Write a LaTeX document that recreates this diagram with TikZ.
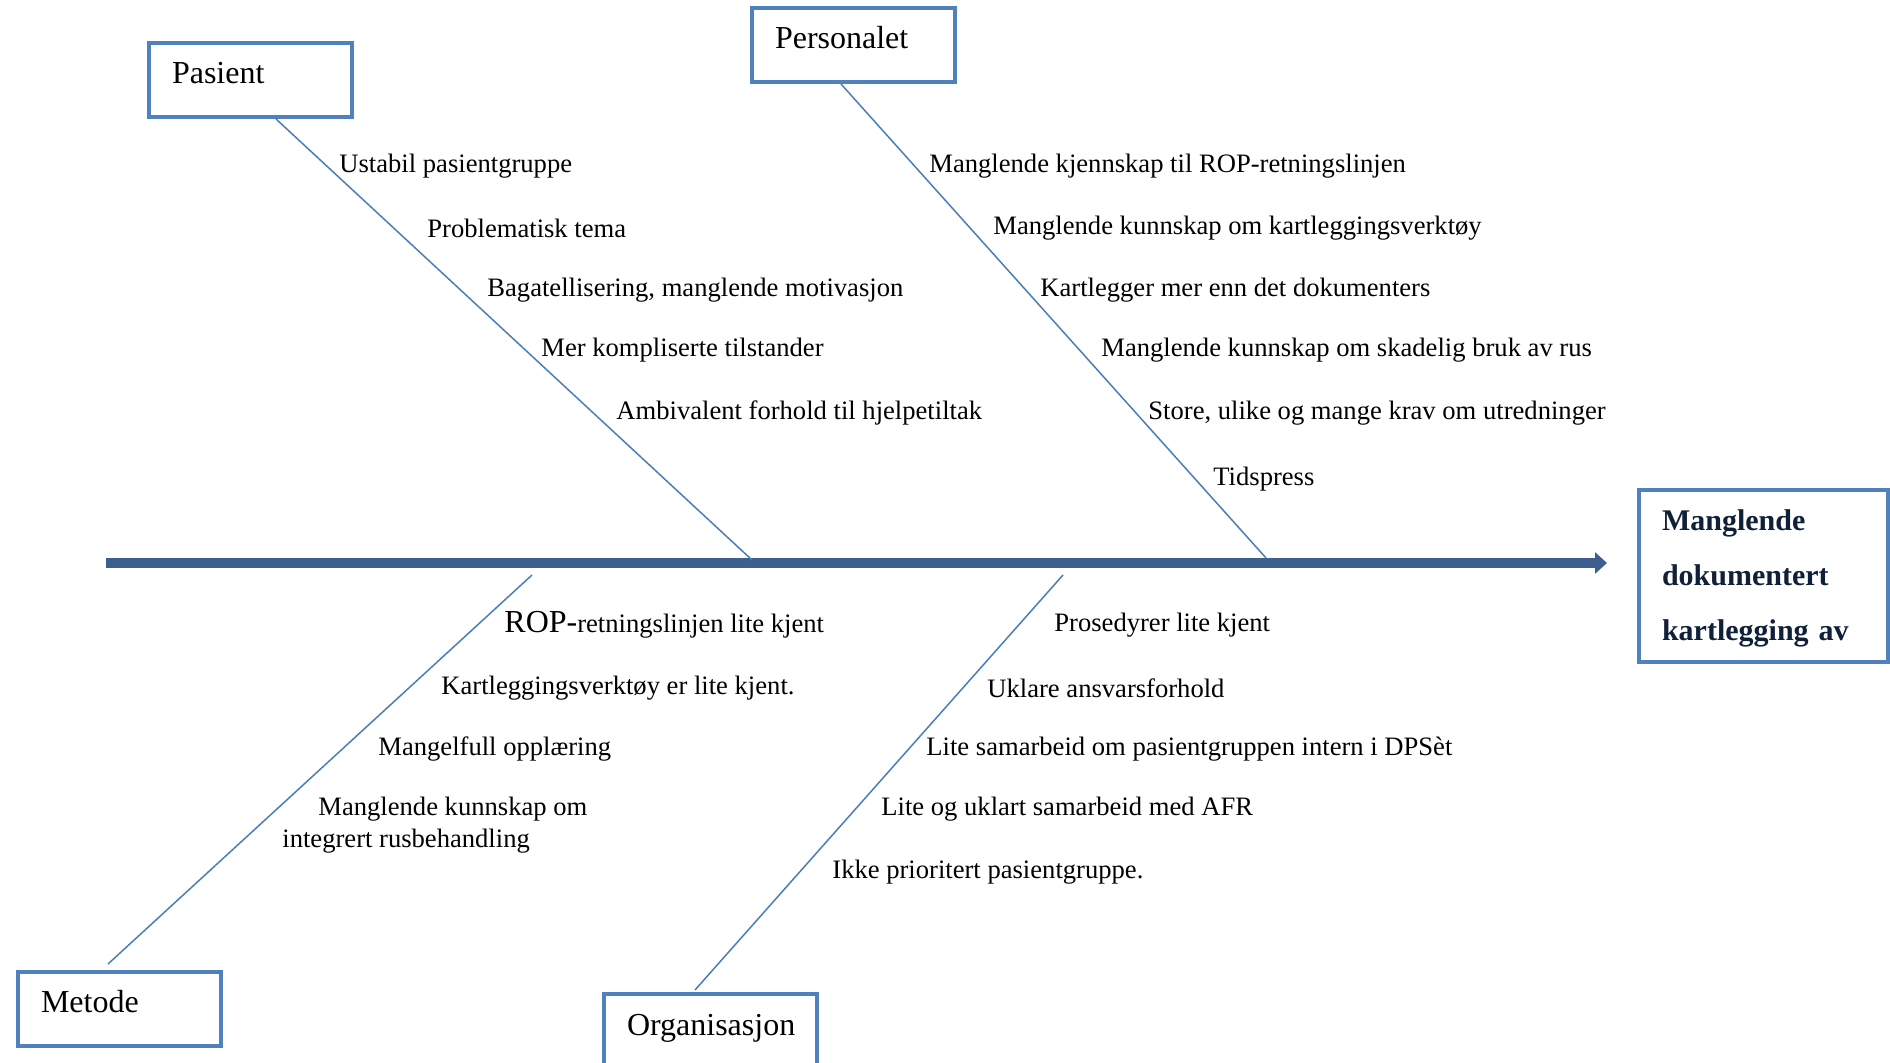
\documentclass[tikz,border=0pt]{standalone}
\usepackage{fontspec}
\setmainfont{Liberation Serif}
\usetikzlibrary{arrows.meta}
\definecolor{boxblue}{RGB}{79,129,189}
\definecolor{lineblue}{RGB}{74,126,187}
\definecolor{spineblue}{RGB}{61,95,143}
\definecolor{navy}{RGB}{16,32,56}
\begin{document}
\begin{tikzpicture}[x=0.5pt,y=-0.5pt,
  catbox/.style={draw=boxblue, line width=2pt, fill=white, anchor=north west,
    inner xsep=11.5pt, inner ysep=0pt, align=left, text height=11pt, text depth=7.6pt,
    font=\fontsize{16}{19}\selectfont},
  cause/.style={anchor=west, inner sep=0pt, font=\fontsize{13.3}{15.5}\selectfont},
  bone/.style={draw=lineblue, line width=0.75pt},
  spine/.style={draw=spineblue, line width=5pt,
    -{Triangle[length=6pt,width=10.5pt]}}]
\useasboundingbox (0,0) rectangle (1890,1063);

% category boxes
\node[catbox, text width=78.5pt, minimum height=37pt] (pasient) at (147,41) {Pasient};
\node[catbox, text width=78.5pt, minimum height=37pt] (personalet) at (750,6) {Personalet};
\node[catbox, text width=78.5pt, minimum height=37pt] (metode) at (16,970) {Metode};
\node[catbox, text width=83.5pt, minimum height=38pt] (organisasjon) at (602,992) {Organisasjon};

% effect box
\node[draw=boxblue, line width=2pt, fill=white, anchor=north west,
  inner xsep=11.5pt, inner ysep=0pt, text width=101.5pt, minimum height=86pt,
  align=left, text=navy, font=\fontsize{15}{27.5}\selectfont\bfseries]
  (effect) at (1637,488) {\rule{0pt}{13pt}Manglende\\dokumentert\\kartlegging av};

% spine
\coordinate (tail) at (106,563);
\coordinate (head) at (1607,563);
\draw[spine] (tail) -- (head);

% joints on the spine
\coordinate (j1) at (752,560);
\coordinate (j2) at (1266,558);
\coordinate (j3) at (532,575);
\coordinate (j4) at (1063,575);

% bones
\draw[bone] (pasient.south west) ++(129,0) -- (j1);
\draw[bone] (personalet.south west) ++(91,0) -- (j2);
\draw[bone] (metode.north west) ++(92,-6) -- (j3);
\draw[bone] (organisasjon.north west) ++(93,-2) -- (j4);

% Pasient causes
\node[cause] (pa1) at (339,166) {Ustabil pasientgruppe};
\node[cause] (pa2) at (427,228) {Problematisk tema};
\node[cause] (pa3) at (487,290) {Bagatellisering, manglende motivasjon};
\node[cause] (pa4) at (541,350) {Mer kompliserte tilstander};
\node[cause] (pa5) at (616,413) {Ambivalent forhold til hjelpetiltak};

% Personalet causes
\node[cause] (pe1) at (929,166) {Manglende kjennskap til ROP-retningslinjen};
\node[cause] (pe2) at (993,228) {Manglende kunnskap om kartleggingsverktøy};
\node[cause] (pe3) at (1040,290) {Kartlegger mer enn det dokumenters};
\node[cause] (pe4) at (1101,350) {Manglende kunnskap om skadelig bruk av rus};
\node[cause] (pe5) at (1148,413) {Store, ulike og mange krav om utredninger};
\node[cause] (pe6) at (1213,479) {Tidspress};

% Metode causes
\node[cause] (me1) at (504,625) {{\fontsize{16}{19}\selectfont ROP-}retningslinjen lite kjent};
\node[cause] (me2) at (441,688) {Kartleggingsverktøy er lite kjent.};
\node[cause] (me3) at (378,749) {Mangelfull opplæring};
\node[cause] (me4) at (318,809) {Manglende kunnskap om};
\node[cause] (me5) at (282,841) {integrert rusbehandling};

% Organisasjon causes
\node[cause] (or1) at (1054,625) {Prosedyrer lite kjent};
\node[cause] (or2) at (987,688) {Uklare ansvarsforhold};
\node[cause] (or3) at (926,749) {Lite samarbeid om pasientgruppen intern i DPSèt};
\node[cause] (or4) at (881,809) {Lite og uklart samarbeid med AFR};
\node[cause] (or5) at (832,872) {Ikke prioritert pasientgruppe.};
\end{tikzpicture}
\end{document}
